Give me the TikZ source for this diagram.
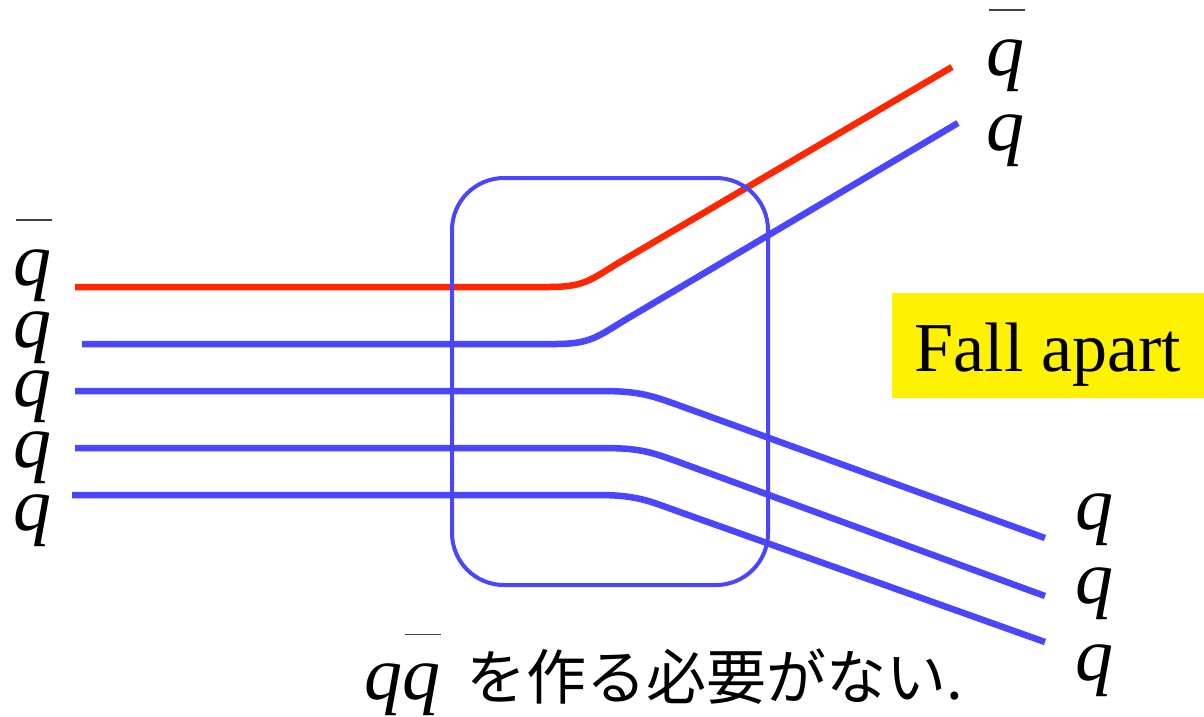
\documentclass[tikz,border=0pt]{standalone}
\usepackage{fontspec}
\setmainfont{Liberation Serif}
\newfontfamily\cjk{Noto Sans CJK JP}
\definecolor{qred}{RGB}{255,38,0}
\definecolor{qblue}{RGB}{74,69,255}
\newcommand\qbr{\makebox[0pt][l]{\hspace{0.04em}\textcolor{black!75}{\rule[0.84em]{0.47em}{0.022em}}}q}
\begin{document}
\begin{tikzpicture}[x=1pt,y=-1pt,
  qlab/.style={font=\fontsize{76}{80}\selectfont\itshape, inner sep=0pt, outer sep=0pt, anchor=base west},
  quark/.style={line width=6.5pt}]
\useasboundingbox (0,0) rectangle (1204,716);

% quark lines
\coordinate (r0) at (75,287);  \coordinate (r1) at (548,287);  \coordinate (r2) at (620,262); \coordinate (r3) at (952,67);
\coordinate (b0) at (82,344);  \coordinate (b1) at (555,344);  \coordinate (b2) at (625,320); \coordinate (b3) at (958,123);
\coordinate (c0) at (75,391);  \coordinate (c1) at (600,391);  \coordinate (c2) at (678,405); \coordinate (c3) at (1045,538);
\coordinate (d0) at (75,448);  \coordinate (d1) at (600,448);  \coordinate (d2) at (676,461); \coordinate (d3) at (1045,596);
\coordinate (e0) at (72,495);  \coordinate (e1) at (597,495);  \coordinate (e2) at (677,511); \coordinate (e3) at (1045,642);

\draw[quark, qred]  (r0) -- (r1) .. controls (585,287) and (590,280) .. (r2) -- (r3);
\draw[quark, qblue] (b0) -- (b1) .. controls (590,344) and (597,337) .. (b2) -- (b3);
\draw[quark, qblue] (c0) -- (c1) .. controls (638,391) and (650,395) .. (c2) -- (c3);
\draw[quark, qblue] (d0) -- (d1) .. controls (638,448) and (648,451) .. (d2) -- (d3);
\draw[quark, qblue] (e0) -- (e1) .. controls (637,495) and (649,501) .. (e2) -- (e3);

% box
\node (box) [draw=qblue, line width=4pt, rounded corners=52pt, minimum width=316pt, minimum height=407pt,
  inner sep=0pt, outer sep=0pt, anchor=north west] at (452,178) {};

% labels left
\node[qlab] (lq1) at (13,285) {\qbr};
\node[qlab] (lq2) at (13,347) {q};
\node[qlab] (lq3) at (13,406) {q};
\node[qlab] (lq4) at (13,467) {q};
\node[qlab] (lq5) at (13,530) {q};

% labels right top
\node[qlab] (rq1) at (986,75) {\qbr};
\node[qlab] (rq2) at (986,150) {q};

% labels right bottom
\node[qlab] (sq1) at (1075,529) {q};
\node[qlab] (sq2) at (1075,603) {q};
\node[qlab] (sq3) at (1075,680) {q};

% Fall apart
\node (fa) [fill=yellow, font=\fontsize{70}{76}\selectfont, minimum width=312pt, minimum height=105pt,
  text height=51pt, text depth=0pt, inner sep=0pt, outer sep=0pt, anchor=north west] at (892,293) {Fall apart};

% bottom text
\node[qlab] (bot) at (364,699) {q\qbr\hspace{26pt}{\upshape\cjk\fontsize{60}{66}\selectfont を作る必要がない.}};
\end{tikzpicture}
\end{document}
